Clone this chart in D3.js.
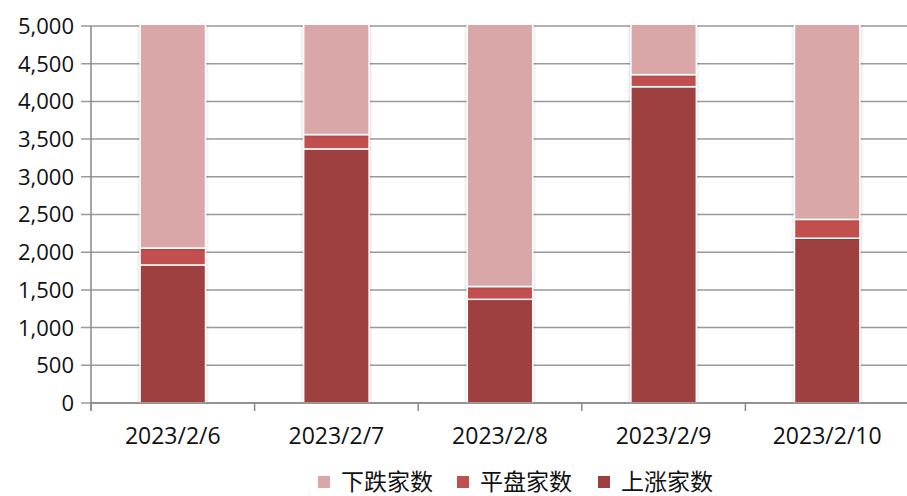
<!DOCTYPE html>
<html>
<head>
<meta charset="utf-8">
<script src="https://cdn.jsdelivr.net/npm/d3@7"></script>
<style>
  body { margin: 0; background: #fff; }
  text { font-family: "Open Sans", "Noto Sans CJK SC", sans-serif; fill: #111; }
  .legend-label { font-family: "Noto Sans CJK SC", sans-serif; }
</style>
</head>
<body>
<div id="chart"></div>
<script>
  var dates = ['2023/2/6', '2023/2/7', '2023/2/8', '2023/2/9', '2023/2/10'];
  var seriesNames = ['上涨家数', '平盘家数', '下跌家数'];
  var upCounts = [1830, 3370, 1375, 4195, 2185];
  var flatCounts = [225, 190, 170, 160, 250];
  var downCounts = [3020, 1520, 3530, 720, 2640];
  var yTicks = [0, 500, 1000, 1500, 2000, 2500, 3000, 3500, 4000, 4500, 5000];
  var colors = ['#9e3f3f', '#c0504d', '#d9a7a8'];

  var width = 907;
  var height = 496;
  var plotLeft = 91, plotRight = 909, plotTop = 26, plotBottom = 403;

  var rows = dates.map(function(d, i) {
    return { date: d, '上涨家数': upCounts[i], '平盘家数': flatCounts[i], '下跌家数': downCounts[i] };
  });
  var stacked = d3.stack().keys(seriesNames)(rows);

  var x = d3.scaleBand().domain(dates).range([plotLeft, plotRight]).paddingInner(0.6).paddingOuter(0.3);
  var xEdge = d3.scaleBand().domain(dates).range([plotLeft, plotRight]);
  var y = d3.scaleLinear().domain([0, 5000]).range([plotBottom, plotTop]);

  var svg = d3.select('#chart').append('svg')
    .attr('width', width)
    .attr('height', height);

  var defs = svg.append('defs');
  var shadow = defs.append('filter').attr('id', 'shadow')
    .attr('x', '-20%').attr('y', '-5%').attr('width', '140%').attr('height', '110%');
  shadow.append('feDropShadow')
    .attr('dx', 0).attr('dy', 0).attr('stdDeviation', 1.5)
    .attr('flood-color', '#000').attr('flood-opacity', 0.25);
  defs.append('clipPath').attr('id', 'plot-clip')
    .append('rect').attr('x', 0).attr('y', plotTop - 1).attr('width', width).attr('height', plotBottom - plotTop + 1);

  // Gridlines with short outside ticks.
  svg.append('g')
    .selectAll('line')
    .data(yTicks)
    .enter().append('line')
    .attr('x1', plotLeft - 10)
    .attr('x2', width)
    .attr('y1', function(d) { return y(d); })
    .attr('y2', function(d) { return y(d); })
    .attr('stroke', '#9a9a9a')
    .attr('stroke-width', 1.5);

  // Y tick labels.
  svg.append('g')
    .selectAll('text')
    .data(yTicks)
    .enter().append('text')
    .attr('x', 74)
    .attr('y', function(d) { return y(d); })
    .attr('dy', '0.36em')
    .attr('text-anchor', 'end')
    .style('font-size', '22px')
    .text(d3.format(','));

  // Bars.
  var bars = svg.append('g').attr('clip-path', 'url(#plot-clip)');
  bars.selectAll('g')
    .data(stacked)
    .enter().append('g')
    .attr('fill', function(d, i) { return colors[i]; })
    .selectAll('rect')
    .data(function(d) { return d; })
    .enter().append('rect')
    .attr('x', function(d) { return x(d.data.date); })
    .attr('width', x.bandwidth())
    .attr('y', function(d) { return y(d[1]); })
    .attr('height', function(d) { return y(d[0]) - y(d[1]); })
    .attr('stroke', '#fff')
    .attr('stroke-width', 1.5)
    .attr('filter', 'url(#shadow)');

  // Axis lines.
  svg.append('line')
    .attr('x1', plotLeft).attr('x2', plotLeft)
    .attr('y1', plotTop).attr('y2', plotBottom + 8)
    .attr('stroke', '#888').attr('stroke-width', 1.5);
  svg.append('line')
    .attr('x1', plotLeft).attr('x2', width)
    .attr('y1', plotBottom).attr('y2', plotBottom)
    .attr('stroke', '#888').attr('stroke-width', 1.5);

  // Category boundary ticks.
  svg.append('g')
    .selectAll('line')
    .data(dates)
    .enter().append('line')
    .attr('x1', function(d) { return xEdge(d); })
    .attr('x2', function(d) { return xEdge(d); })
    .attr('y1', plotBottom)
    .attr('y2', plotBottom + 8)
    .attr('stroke', '#888')
    .attr('stroke-width', 1.5);

  // X labels.
  svg.append('g')
    .selectAll('text')
    .data(dates)
    .enter().append('text')
    .attr('x', function(d) { return xEdge(d) + xEdge.bandwidth() / 2; })
    .attr('y', 436)
    .attr('dy', '0.36em')
    .attr('text-anchor', 'middle')
    .style('font-size', '23px')
    .text(function(d) { return d; });

  // Legend: top series first.
  var legendItems = [
    { name: '下跌家数', color: colors[2], x: 318 },
    { name: '平盘家数', color: colors[1], x: 457 },
    { name: '上涨家数', color: colors[0], x: 598 }
  ];
  var legend = svg.append('g').selectAll('g')
    .data(legendItems)
    .enter().append('g')
    .attr('transform', function(d) { return 'translate(' + d.x + ',482)'; });
  legend.append('rect')
    .attr('x', 0).attr('y', -6)
    .attr('width', 12).attr('height', 12)
    .attr('fill', function(d) { return d.color; });
  legend.append('text')
    .attr('class', 'legend-label')
    .attr('x', 23)
    .attr('dy', '0.35em')
    .style('font-size', '23px')
    .text(function(d) { return d.name; });
</script>
</body>
</html>
